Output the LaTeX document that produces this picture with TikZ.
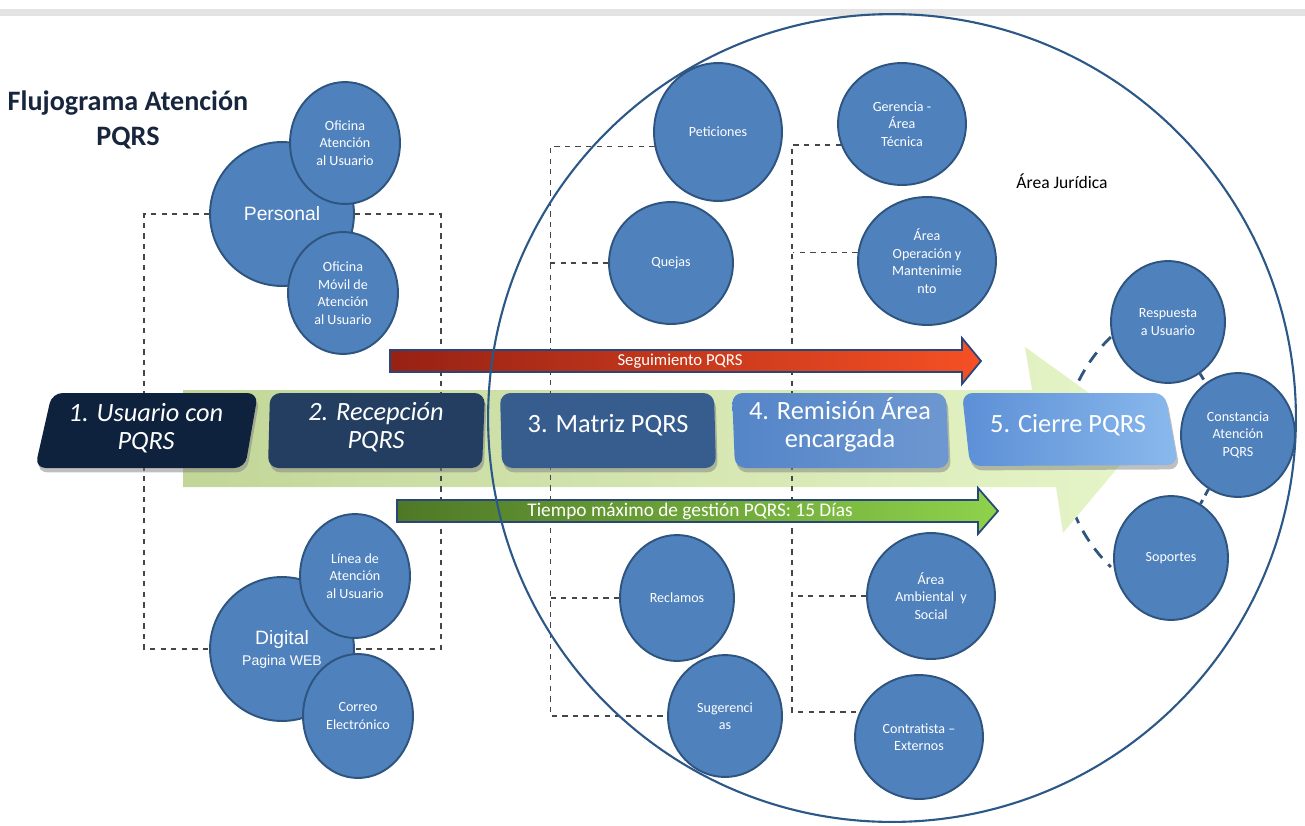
\documentclass[tikz,border=0pt]{standalone}
\usepackage{fontspec}
\setmainfont{Carlito}
\newfontfamily\arialfont{Liberation Sans}
\usepackage{tikz}
\usetikzlibrary{shapes,arrows,positioning,shadows,fit,backgrounds}
\definecolor{pqtitle}{RGB}{23,37,61}
\definecolor{pqbub}{RGB}{79,129,189}
\definecolor{pqbubline}{RGB}{46,84,128}
\definecolor{pqring}{RGB}{44,88,136}
\definecolor{pqlink}{RGB}{70,70,70}
\definecolor{pqone}{RGB}{14,34,62}
\definecolor{pqtwo}{RGB}{35,62,96}
\definecolor{pqthree}{RGB}{55,93,143}
\definecolor{pqfour}{RGB}{84,133,200}
\definecolor{pqfivea}{RGB}{92,143,214}
\definecolor{pqfiveb}{RGB}{138,185,236}
\definecolor{pqbanda}{RGB}{194,214,152}
\definecolor{pqbandb}{RGB}{230,245,200}
\definecolor{pqreda}{RGB}{150,33,20}
\definecolor{pqredb}{RGB}{246,80,36}
\definecolor{pqgreena}{RGB}{78,120,38}
\definecolor{pqgreenb}{RGB}{142,210,75}
\definecolor{pqedge}{RGB}{40,70,120}
\pgfdeclarelayer{back}
\pgfdeclarelayer{mid}
\pgfsetlayers{back,mid,main}

\begin{document}
\begin{tikzpicture}[x=0.02cm, y=-0.02cm, >=stealth,
    bub/.style={draw=pqbubline, line width=1.1pt, fill=pqbub, ellipse, inner sep=0pt, text=white, align=center, font=\fontsize{8}{10}\selectfont},
    sz/.style 2 args={minimum width=#1*0.04cm, minimum height=#2*0.04cm},
    link/.style={draw=pqlink, dashed, line width=0.9pt},
    stage/.style={rounded corners=6pt, drop shadow={shadow xshift=1pt, shadow yshift=-2.5pt, opacity=0.5}},
    stagetext/.style={text=white, align=center, font=\fontsize{15}{16}\selectfont},
    barrow/.style={draw=pqedge, line width=1pt},
    bartext/.style={text=white, font=\fontsize{10}{12}\selectfont}]
    \useasboundingbox (0,0) rectangle (1305,825);
    \fill[gray!22] (0,9) rectangle (1305,16);

    % Title
    \node[font=\fontsize{16}{20}\selectfont\bfseries, text=pqtitle, align=center] (title) at (128,120) {Flujograma Atención\\PQRS};

    % Channels
    \node[bub, sz={72}{72}, font=\arialfont\fontsize{11}{13}\selectfont] (personal) at (282,214) {Personal};
    \node[bub, sz={55}{61}] (oficina) at (345,143) {Oficina\\Atención\\al Usuario};
    \node[bub, sz={55}{61}] (movil) at (343,293) {Oficina\\Móvil de\\Atención\\al Usuario};
    \node[bub, sz={72}{72}, font=\arialfont\fontsize{11}{12}\selectfont] (digital) at (282,649) {Digital\\\fontsize{8}{10}\selectfont Pagina WEB};
    \node[bub, sz={55}{62}] (linea) at (355,576) {Línea de\\Atención\\al Usuario};
    \node[bub, sz={55}{62}] (correo) at (358,716) {Correo\\Electrónico};

    % Types
    \node[bub, sz={64}{69}] (peticiones) at (718,132) {Peticiones};
    \node[bub, sz={62}{61}] (quejas) at (671,263) {Quejas};
    \node[bub, sz={57}{63}] (reclamos) at (677,598) {Reclamos};
    \node[bub, sz={57}{61}] (sugerencias) at (725,716) {Sugerenci\\as};

    % Areas
    \node[bub, sz={64}{61}] (gerencia) at (902,124) {Gerencia -\\Área\\Técnica};
    \node[bub, sz={69}{64}] (operacion) at (927,261) {Área\\Operación y\\Mantenimie\\nto};
    \node[bub, sz={64}{63}] (ambiental) at (931,596) {Área\\Ambiental~ y\\Social};
    \node[bub, sz={64}{62}] (contratista) at (919,737) {Contratista –\\Externos};

    % Closing
    \node[bub, sz={57}{61}] (respuesta) at (1168,322) {Respuesta\\a Usuario};
    \node[bub, sz={57}{62}] (constancia) at (1238,435) {Constancia\\Atención\\PQRS};
    \node[bub, sz={57}{62}] (soportes) at (1171,558) {Soportes};

    \begin{pgfonlayer}{back}
        \coordinate (cierrering) at (1222,452);
        \draw[pqbubline, line width=1.6pt, dash pattern=on 7pt off 5pt] ([shift={(134:3.2cm)}]cierrering) arc[start angle=134, end angle=226, radius=3.2cm];
        \draw[pqbubline, line width=1.6pt, dash pattern=on 4pt off 3pt] (respuesta) -- (constancia);
        \draw[pqbubline, line width=1.6pt, dash pattern=on 4pt off 3pt] (constancia) -- (soportes);
        % Process band
        \path[left color=pqbanda, right color=pqbandb] (183,390) -- (1032,390) -- (1025,347) -- (1146,434) -- (1063,533) -- (1056,487) -- (183,487) -- cycle;
    \end{pgfonlayer}

    \begin{pgfonlayer}{mid}
        \draw[link] (personal.west) -- ++(-65,0) |- (digital.west);
        \draw[link] (personal.east) -- ++(86,0) |- (digital.east);
        \draw[link] (peticiones.193) -- ++(-104,0) |- (sugerencias.west);
        \draw[link] (quejas.west) -- ++(-58,0);
        \draw[link] (reclamos.west) -- ++(-69,0);
        \draw[link] (gerencia.199) -- ++(-49,0) |- (contratista.157);
        \draw[link] (operacion.173) -- ++(-65,0);
        \draw[link] (ambiental.west) -- ++(-73,0);
    \end{pgfonlayer}

    % Stages
    \path[stage, fill=pqone] (52,393) -- (258,393) -- (245,468) -- (35,468) -- cycle;
    \node[stagetext, font=\fontsize{15}{16}\selectfont\itshape] (usuario) at (146,428) {1. Usuario con\\PQRS};
    \path[stage, fill=pqtwo] (270,393) -- (485,393) -- (482,468) -- (268,468) -- cycle;
    \node[stagetext, font=\fontsize{15}{16}\selectfont\itshape] (recepcion) at (376,427) {2. Recepción\\PQRS};
    \path[stage, fill=pqthree] (500,393) -- (714,393) -- (716,468) -- (502,468) -- cycle;
    \node[stagetext] (matriz) at (608,425) {3. Matriz PQRS};
    \path[stage, left color=pqfour, right color=pqfour!85!white] (732,393) -- (946,393) -- (949,468) -- (735,468) -- cycle;
    \node[stagetext] (remision) at (840,425) {4. Remisión Área\\encargada};
    \path[stage, left color=pqfivea, right color=pqfiveb] (962,393) -- (1165,393) -- (1178,465) -- (970,466) -- cycle;
    \node[stagetext] (cierre) at (1068,425) {5. Cierre PQRS};

    % Time bars
    \path[barrow, left color=pqreda, right color=pqredb] (390,350) -- (962,350) -- (962,338) -- (981,361) -- (962,384) -- (962,372) -- (390,372) -- cycle;
    \node[bartext, font=\fontsize{9.5}{11}\selectfont] (seguimiento) at (680,361) {Seguimiento PQRS};
    \path[barrow, left color=pqgreena, right color=pqgreenb] (397,500) -- (978,500) -- (978,488) -- (998,511) -- (978,534) -- (978,522) -- (397,522) -- cycle;
    \node[bartext, font=\fontsize{11}{12}\selectfont] (tiempo) at (690,511) {Tiempo máximo de gestión PQRS: 15 Días};

    % Legal area
    \node[draw=pqring, line width=1.2pt, circle, minimum size=16.16cm, inner sep=0pt] (juridica) at (892,418) {};
    \node[font=\fontsize{10}{12}\selectfont] (juridicalabel) at (1062,181) {Área Jurídica};
\end{tikzpicture}
\end{document}
